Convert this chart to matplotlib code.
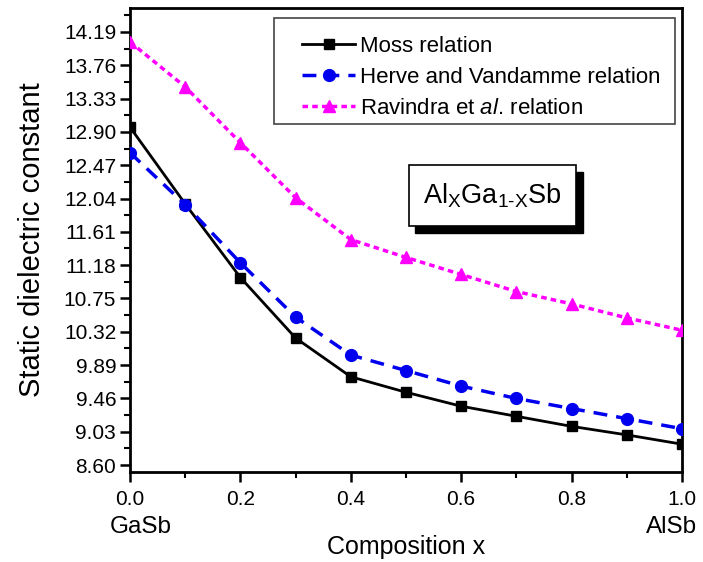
import matplotlib
matplotlib.use("Agg")
import matplotlib.pyplot as plt
from matplotlib.patches import Rectangle
from matplotlib.ticker import MultipleLocator, FixedLocator
import numpy as np

plt.rcParams['font.family'] = ['Liberation Sans', 'DejaVu Sans']
plt.rcParams['mathtext.fontset'] = 'custom'
plt.rcParams['mathtext.rm'] = 'Liberation Sans'
plt.rcParams['mathtext.it'] = 'Liberation Sans:italic'

composition = [0.0, 0.1, 0.2, 0.3, 0.4, 0.5, 0.6, 0.7, 0.8, 0.9, 1.0]
moss = [12.96, 11.97, 11.02, 10.24, 9.74, 9.54, 9.36, 9.23, 9.10, 8.99, 8.87]
herve = [12.63, 11.96, 11.21, 10.51, 10.02, 9.82, 9.62, 9.46, 9.33, 9.20, 9.07]
ravindra = [14.06, 13.48, 12.76, 12.05, 11.51, 11.28, 11.06, 10.84, 10.68, 10.50, 10.34]
y_ticks = [8.60, 9.03, 9.46, 9.89, 10.32, 10.75, 11.18, 11.61, 12.04, 12.47, 12.90, 13.33, 13.76, 14.19]
x_ticks = [0.0, 0.2, 0.4, 0.6, 0.8, 1.0]
labels = ['Moss relation', 'Herve and Vandamme relation', r'Ravindra et $\mathit{al}$. relation']

fig = plt.figure(figsize=(7.03, 5.62), dpi=100)
ax = fig.add_axes([0.185, 0.160, 0.785, 0.826])

ax.plot(composition, moss, color='black', lw=2, marker='s', ms=7.5, label=labels[0], zorder=4)
ax.plot(composition, herve, color='#0000EE', lw=2.5, ls=(0, (4, 2.6)), marker='o', ms=8.5, label=labels[1], zorder=4)
ax.plot(composition, ravindra, color='#FF00FF', lw=2.5, ls=(0, (1.6, 1.2)), marker='^', ms=9, label=labels[2], zorder=4)

ax.set_xlim(0, 1.0)
ax.set_ylim(8.51, 14.50)
ax.xaxis.set_major_locator(FixedLocator(x_ticks))
ax.xaxis.set_minor_locator(MultipleLocator(0.1))
ax.yaxis.set_major_locator(FixedLocator(y_ticks))
mids = [y_ticks[0] - 0.215] + [v + 0.215 for v in y_ticks]
ax.yaxis.set_minor_locator(FixedLocator(mids))
ax.set_yticklabels([f"{v:.2f}" for v in y_ticks])
ax.set_xticklabels([f"{v:.1f}" for v in x_ticks])

for s in ax.spines.values():
    s.set_linewidth(2)
ax.tick_params(which='major', direction='out', length=7, width=1.8, labelsize=15)
ax.tick_params(axis='x', which='major', pad=6)
ax.tick_params(axis='y', which='major', pad=3)
ax.tick_params(which='minor', direction='out', length=4, width=1.5)

ax.set_ylabel('Static dielectric constant', fontsize=21)
ax.yaxis.set_label_coords(-0.153, 0.5)
ax.set_xlabel('Composition x', fontsize=18)
ax.xaxis.set_label_coords(0.5, -0.136)
ax.text(0.02, -0.118, 'GaSb', transform=ax.transAxes, ha='center', va='center', fontsize=17.5)
ax.text(0.982, -0.118, 'AlSb', transform=ax.transAxes, ha='center', va='center', fontsize=17.5)

leg = ax.legend(loc='upper left', bbox_to_anchor=(0.3116, 0.940), fontsize=16,
                frameon=False, handlelength=2.4,
                borderpad=0, labelspacing=0.46, handletextpad=0.23, borderaxespad=0)
ax.add_patch(Rectangle((0.261, 0.750), 0.987 - 0.261, 0.978 - 0.750, transform=ax.transAxes,
                       facecolor='none', edgecolor='#444444', lw=1.2, zorder=6))

x0, x1, y0, y1 = 0.505, 0.808, 0.530, 0.662
dx, dy = 0.012, 0.016
ax.add_patch(Rectangle((x0 + dx, y0 - dy), x1 - x0, y1 - y0, transform=ax.transAxes,
                       facecolor='black', edgecolor='black', zorder=5))
ax.add_patch(Rectangle((x0, y0), x1 - x0, y1 - y0, transform=ax.transAxes,
                       facecolor='white', edgecolor='black', lw=1.2, zorder=6))
ax.text((x0 + x1) / 2, (y0 + y1) / 2, r'Al$_\mathrm{X}$Ga$_\mathrm{1\text{-}X}$Sb',
        transform=ax.transAxes, ha='center', va='center', fontsize=19.5, zorder=7)

fig.savefig('out.png', dpi=100)
